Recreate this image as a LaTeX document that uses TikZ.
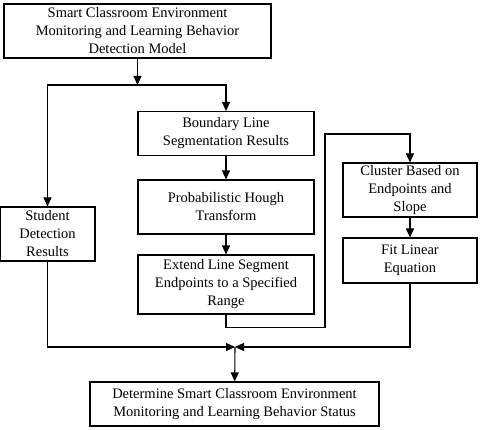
\documentclass[tikz,border=0pt]{standalone}
\usepackage{fontspec}
\setmainfont{Liberation Serif}
\usetikzlibrary{arrows.meta,calc}
\begin{document}
\begin{tikzpicture}[x=1pt,y=-1pt,
  box/.style={draw,line width=1.1pt,align=center,inner sep=0pt,font=\fontsize{14.5}{18}\selectfont},
  conn/.style={line width=1.1pt},
  arr/.style={conn,-{Triangle[length=9pt,width=8pt]}}]
\useasboundingbox (0,0) rectangle (480,430);
\node[box,minimum width=267pt,minimum height=54pt] (top) at (137.5,31) {Smart Classroom Environment\\Monitoring and Learning Behavior\\Detection Model};
\node[box,minimum width=176pt,minimum height=44pt] (bnd) at (226,133.5) {Boundary Line\\Segmentation Results};
\node[box,minimum width=176pt,minimum height=54pt] (hough) at (226,207) {Probabilistic Hough\\Transform};
\node[box,minimum width=176pt,minimum height=59pt] (ext) at (226,284.5) {Extend Line Segment\\Endpoints to a Specified\\Range};
\node[box,minimum width=95pt,minimum height=54pt] (stu) at (47.5,234) {Student\\Detection\\Results};
\node[box,minimum width=134pt,minimum height=54pt] (clu) at (410,190) {Cluster Based on\\Endpoints and\\Slope};
\node[box,minimum width=134pt,minimum height=45pt] (fit) at (410,260.5) {Fit Linear\\Equation};
\node[box,minimum width=289pt,minimum height=44pt] (fin) at (234.5,404) {Determine Smart Classroom Environment\\Monitoring and Learning Behavior Status};
\coordinate (j) at (137.5,85);
\coordinate (m) at (235,347);
\draw[arr] (top) -- (j);
\draw[arr] (j) -| (stu);
\draw[arr] (j) -| (bnd);
\draw[arr] (bnd) -- (hough);
\draw[arr] (hough) -- (ext);
\draw[arr] (ext.south) -- ++(0,13) -| (325,134) -| (clu.north);
\draw[arr] (clu) -- (fit);
\draw[arr] (stu.south) |- (m);
\draw[arr] (fit.south) |- (m);
\draw[arr] (m) -- (fin);
\end{tikzpicture}
\end{document}
